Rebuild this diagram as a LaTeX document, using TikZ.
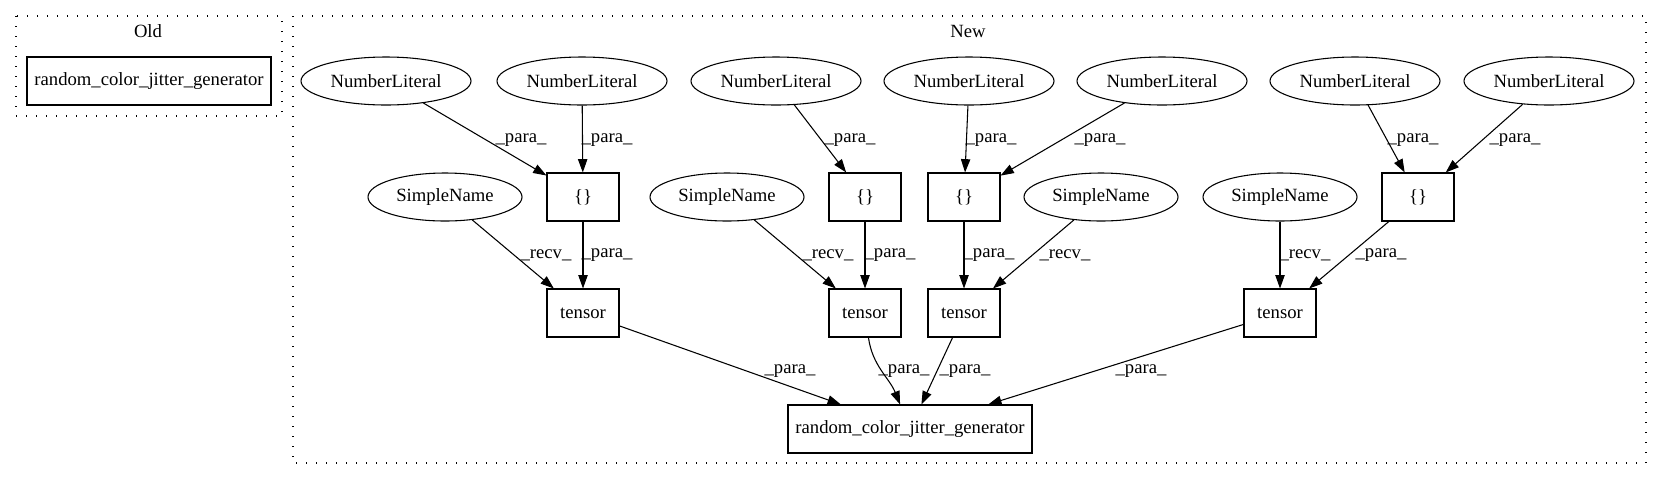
\documentclass[tikz,border=0pt]{standalone}
\usepackage{fontspec}
\setmainfont{Liberation Serif}
\usetikzlibrary{arrows.meta,shapes.geometric}
\begin{document}
\begin{tikzpicture}[x=0.75pt,y=-0.75pt,
  every node/.style={font=\fontsize{14pt}{16pt}\selectfont},
  ell/.style={draw,ellipse,line width=0.8pt,inner sep=0pt,minimum width=127.5pt,minimum height=36pt},
  sn/.style={ell,minimum width=115.5pt},
  box/.style={draw,rectangle,line width=0.8pt,inner sep=0pt,minimum width=54pt,minimum height=36pt},
  wide/.style={box,minimum width=183pt},
  edge/.style={draw,line width=0.8pt,-{Triangle[length=10pt,width=7pt]}},
  lbl/.style={inner sep=0pt},
  cluster/.style={draw,line width=1pt,dash pattern=on 1pt off 6.5pt}
]
\useasboundingbox (0,0) rectangle (1661,480);
% clusters
\draw[cluster] (16,16) rectangle (282,116);
\draw[cluster] (293,16) rectangle (1646,463);
\node[lbl] (oldlbl) at (148,31) {Old};
\node[lbl] (newlbl) at (968,31) {New};
% old
\node[wide] (old) at (149,81) {random\_color\_jitter\_generator};
% number literals
\node[ell] (nl1) at (386,81) {NumberLiteral};
\node[ell] (nl2) at (582,81) {NumberLiteral};
\node[ell] (nl3) at (776,81) {NumberLiteral};
\node[ell] (nl4) at (969,81) {NumberLiteral};
\node[ell] (nl5) at (1162,81) {NumberLiteral};
\node[ell] (nl6) at (1355,81) {NumberLiteral};
\node[ell] (nl7) at (1549,81) {NumberLiteral};
% braces
\node[box] (b1) at (583,197) {\{\}};
\node[box] (b2) at (865,197) {\{\}};
\node[box] (b3) at (964,197) {\{\}};
\node[box] (b4) at (1418,197) {\{\}};
% simple names
\node[sn] (sn1) at (445,197) {SimpleName};
\node[sn] (sn2) at (727,197) {SimpleName};
\node[sn] (sn3) at (1101,197) {SimpleName};
\node[sn] (sn4) at (1280,197) {SimpleName};
% tensors
\node[box] (t1) at (583,313) {tensor};
\node[box] (t2) at (865,313) {tensor};
\node[box] (t3) at (964,313) {tensor};
\node[box] (t4) at (1280,313) {tensor};
% target
\node[wide] (rc) at (910,429) {random\_color\_jitter\_generator};
% edges row 1
\draw[edge] (nl1) -- (b1);
\draw[edge] (nl2) -- (b1);
\draw[edge] (nl3) -- (b2);
\draw[edge] (nl4) -- (b3);
\draw[edge] (nl5) -- (b3);
\draw[edge] (nl6) -- (b4);
\draw[edge] (nl7) -- (b4);
\node[lbl] at (521,140) {\_para\_};
\node[lbl] at (607,140) {\_para\_};
\node[lbl] at (850,140) {\_para\_};
\node[lbl] at (991,140) {\_para\_};
\node[lbl] at (1100,140) {\_para\_};
\node[lbl] at (1413,140) {\_para\_};
\node[lbl] at (1515,140) {\_para\_};
% edges row 2
\draw[edge] (sn1) -- (t1);
\draw[edge] (b1) -- (t1);
\draw[edge] (sn2) -- (t2);
\draw[edge] (b2) -- (t2);
\draw[edge] (b3) -- (t3);
\draw[edge] (sn3) -- (t3);
\draw[edge] (sn4) -- (t4);
\draw[edge] (b4) -- (t4);
\node[lbl] at (546,255) {\_recv\_};
\node[lbl] at (607,255) {\_para\_};
\node[lbl] at (828,255) {\_recv\_};
\node[lbl] at (890,255) {\_para\_};
\node[lbl] at (989,255) {\_para\_};
\node[lbl] at (1065,255) {\_recv\_};
\node[lbl] at (1305,255) {\_recv\_};
\node[lbl] at (1381,255) {\_para\_};
% edges row 3
\draw[edge] (t1) -- (rc);
\draw[edge] (t2) to[out=-82,in=112] (rc);
\draw[edge] (t3) -- (rc);
\draw[edge] (t4) -- (rc);
\node[lbl] at (790,371) {\_para\_};
\node[lbl] at (904,371) {\_para\_};
\node[lbl] at (965,371) {\_para\_};
\node[lbl] at (1141,371) {\_para\_};
\end{tikzpicture}
\end{document}
